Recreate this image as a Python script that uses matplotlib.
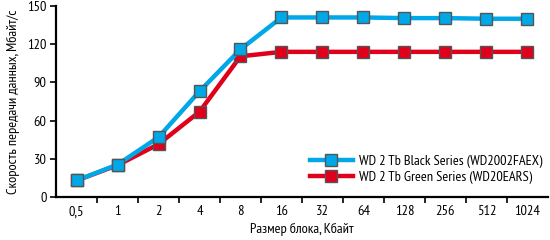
import numpy as np
import matplotlib

matplotlib.use('Agg')
import matplotlib.pyplot as plt
from matplotlib.ticker import FixedLocator

plt.rcParams['font.family'] = ['PT Sans Narrow', 'DejaVu Sans']

block_sizes = ['0,5', '1', '2', '4', '8', '16', '32', '64', '128', '256', '512', '1024']
black_series = [13, 25.5, 47, 83, 116, 141, 141, 141, 140.5, 140.5, 140, 140]
green_series = [13, 25, 41.5, 67, 110.5, 114, 114, 114, 114, 114, 114, 114]
labels = ['WD 2 Tb Black Series (WD2002FAEX)', 'WD 2 Tb Green Series (WD20EARS)']

blue = '#00a8e8'
red = '#e0001b'
fs = 10.4

fig = plt.figure(figsize=(5.5, 2.4), dpi=100)
ax = fig.add_axes([0.102, 0.179, 0.894, 0.796])

x = np.arange(len(block_sizes))
ax.plot(x, green_series, color=red, lw=3.2, marker='s', ms=8.5,
        mfc=red, mec='#555555', mew=1, label=labels[1], zorder=3)
ax.plot(x, black_series, color=blue, lw=3.2, marker='s', ms=8.5,
        mfc=blue, mec='#555555', mew=1, label=labels[0], zorder=4)

ax.set_xlim(-0.5, len(block_sizes) - 0.5)
ax.set_ylim(0, 150)
ax.set_yticks([0, 30, 60, 90, 120, 150])

# category labels in the middle, tick marks at the boundaries
ax.set_xticks(x)
ax.set_xticklabels(block_sizes, fontsize=fs)
ax.tick_params(axis='x', which='major', length=0, pad=6)
ax.xaxis.set_minor_locator(FixedLocator(np.arange(0.5, len(block_sizes) - 0.5, 1)))
ax.tick_params(axis='x', which='minor', length=4, width=1.2, direction='out')
ax.tick_params(axis='y', length=4, width=1.2, labelsize=fs, pad=3)

for s in ['top', 'right']:
    ax.spines[s].set_visible(False)
for s in ['left', 'bottom']:
    ax.spines[s].set_linewidth(1.6)

ax.set_xlabel('Размер блока, Кбайт', fontsize=fs, labelpad=3)
ax.set_ylabel('Скорость передачи данных, Мбайт/с', fontsize=fs, labelpad=5)

handles, lbls = ax.get_legend_handles_labels()
ax.legend(handles[::-1], lbls[::-1], loc='lower right', bbox_to_anchor=(1.0, 0.04),
          frameon=False, fontsize=fs, handlelength=3.0, labelspacing=0.2,
          handletextpad=0.4, borderaxespad=0)

fig.savefig('out.png', dpi=100)
